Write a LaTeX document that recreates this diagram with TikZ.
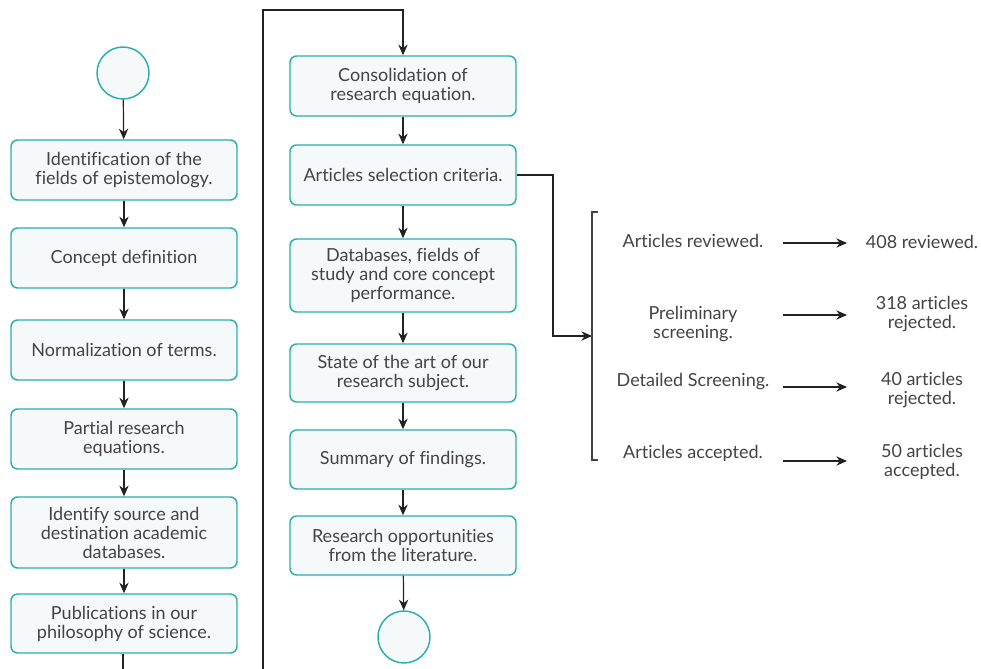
\documentclass[tikz,border=0pt]{standalone}
\usepackage{fontspec}
\setmainfont{Lato}[Ligatures=NoCommon]
\usetikzlibrary{arrows.meta}
\definecolor{boxline}{HTML}{2BADB1}
\definecolor{boxfill}{HTML}{F5F9FA}
\definecolor{txtcol}{HTML}{444444}
\definecolor{arrcol}{HTML}{222222}
\begin{document}
\begin{tikzpicture}[x=0.75pt,y=-0.75pt,
  box/.style={draw=boxline, line width=1.1pt, fill=boxfill, rounded corners=5pt,
    minimum width=169.5pt, minimum height=45pt, align=center, text=txtcol,
    font=\fontsize{13.5}{14.2}\selectfont, inner sep=2pt},
  circ/.style={circle, draw=boxline, line width=1.1pt, fill=boxfill, minimum size=39pt, inner sep=0pt},
  arr/.style={-{Stealth[length=8pt,width=7pt]}, line width=0.9pt, draw=arrcol},
  conn/.style={line width=0.9pt, draw=arrcol},
  lbl/.style={text=txtcol, align=center, font=\fontsize{13.5}{14}\selectfont, inner sep=1pt}]
\useasboundingbox (0,0) rectangle (981,668);
\clip (0,0) rectangle (981,668);
\fill[white] (0,0) rectangle (981,668);
% left column
\node[circ] (s) at (123,73) {};
\node[box] (b1) at (124,170) {Identification of the\\fields of epistemology.};
\node[box] (b2) at (124,258) {Concept definition};
\node[box] (b3) at (124,350) {Normalization of terms.};
\node[box] (b4) at (124,439) {Partial research\\equations.};
\node[box, minimum height=53.25pt] (b5) at (124,532.5) {Identify source and\\destination academic\\databases.};
\node[box, minimum height=44.25pt] (b6) at (124,623.5) {Publications in our\\philosophy of science.};
% right column
\node[box] (c1) at (403,86) {Consolidation of\\research equation.};
\node[box] (c2) at (403,175) {Articles selection criteria.};
\node[box, minimum height=54.75pt] (c3) at (403,275.5) {Databases, fields of\\study and core concept\\performance.};
\node[box, minimum height=43.5pt] (c4) at (403,373) {State of the art of our\\research subject.};
\node[box, minimum height=44.25pt] (c5) at (403,459.5) {Summary of findings.};
\node[box, minimum height=44.25pt] (c6) at (403,545.5) {Research opportunities\\from the literature.};
\node[circ] (e) at (404,637) {};
% arrows
\draw[arr] (s) -- (b1);
\draw[arr] (b1) -- (b2);
\draw[arr] (b2) -- (b3);
\draw[arr] (b3) -- (b4);
\draw[arr] (b4) -- (b5);
\draw[arr] (b5) -- (b6);
\draw[arr] (c1) -- (c2);
\draw[arr] (c2) -- (c3);
\draw[arr] (c3) -- (c4);
\draw[arr] (c4) -- (c5);
\draw[arr] (c5) -- (c6);
\draw[arr] (c6) -- (e);
\coordinate (lb) at (123,700);
\coordinate (top) at (263,10);
\draw[arr] (b6.south -| lb) -- (lb) -| (top) -| (c1.north);
% bracket
\coordinate (knee) at (553,336);
\coordinate (bk) at (592,336);
\draw[arr] (c2.east) -| (knee) -- (bk);
\draw[conn, line width=0.8pt, draw=txtcol] (598,212) -- (592,212) -- (592,460) -- (598,460);
% labels
\node[lbl] (l1) at (693,241) {Articles reviewed.};
\node[lbl] (l2) at (693,324) {Preliminary\\screening.};
\node[lbl] (l3) at (693,382) {Detailed Screening.};
\node[lbl] (l4) at (693,453) {Articles accepted.};
\node[lbl] (r1) at (922,242) {408 reviewed.};
\node[lbl] (r2) at (922,314) {318 articles\\rejected.};
\node[lbl] (r3) at (922,390) {40 articles\\rejected.};
\node[lbl] (r4) at (922,462) {50 articles\\accepted.};
\foreach \i/\y in {1/243,2/315,3/387,4/461}{
  \coordinate (as\i) at (783,\y);
  \coordinate (ae\i) at (847,\y);
  \draw[arr] (as\i) -- (ae\i);
}
\end{tikzpicture}
\end{document}
